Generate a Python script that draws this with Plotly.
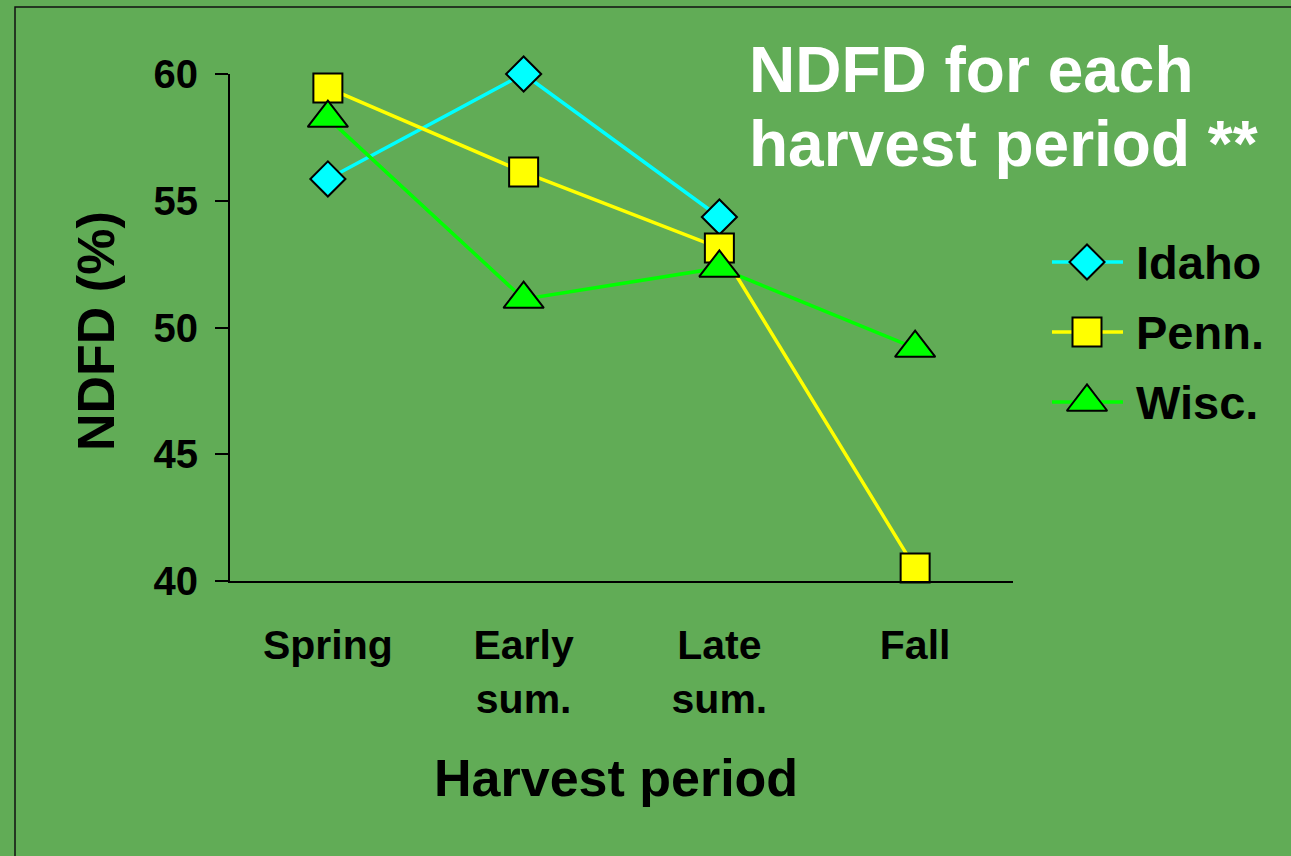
import plotly.graph_objects as go

# --- data ---
periods = ["Spring", "Early<br>sum.", "Late<br>sum.", "Fall"]
states = ["Idaho", "Penn.", "Wisc."]
idaho = [55.86, 60.0, 54.36, None]
penn = [59.45, 56.13, 53.14, 40.51]
wisc = [58.26, 51.12, 52.35, 49.19]
y_ticks = [40, 45, 50, 55, 60]

# --- styling ---
W, H = 1291, 856
BG = "#61ac56"
FONT = "Liberation Sans, Arial, sans-serif"
line_colors = ["#00ffff", "#ffff00", "#00ff00"]
symbols = ["diamond", "square", "triangle-up"]
sizes = [27, 29, 35]


def px(x):
    return x / W


def py(y):
    return 1 - y / H


fig = go.Figure()

for name, vals, col, sym, sz in zip(states, [idaho, penn, wisc], line_colors, symbols, sizes):
    fig.add_trace(go.Scatter(
        x=periods, y=vals, name=name, mode="lines+markers",
        line=dict(color=col, width=3.5),
        marker=dict(symbol=sym, size=sz, color=col, line=dict(color="black", width=2)),
        cliponaxis=False, showlegend=False,
    ))

# legend keys drawn on a full-page pixel-space axis pair
legend_y = [262, 332, 402]
for name, col, sym, sz, ly in zip(states, line_colors, symbols, sizes, legend_y):
    fig.add_trace(go.Scatter(
        x=[1052, 1123], y=[ly, ly], mode="lines", xaxis="x2", yaxis="y2",
        line=dict(color=col, width=3.5), showlegend=False, hoverinfo="skip",
    ))
    fig.add_trace(go.Scatter(
        x=[1087], y=[ly], mode="markers", xaxis="x2", yaxis="y2",
        marker=dict(symbol=sym, size=sz, color=col, line=dict(color="black", width=2)),
        showlegend=False, hoverinfo="skip", cliponaxis=False,
    ))
    fig.add_annotation(
        x=px(1134), y=py(ly), xref="paper", yref="paper", text=f"<b>{name}</b>",
        showarrow=False, xanchor="left", yanchor="middle",
        font=dict(family=FONT, size=47, color="black"),
    )

# title lines
for txt, cy in [("NDFD for each", 70), ("harvest period **", 144)]:
    fig.add_annotation(
        x=px(747), y=py(cy), xref="paper", yref="paper", text=f"<b>{txt}</b>",
        showarrow=False, xanchor="left", yanchor="middle",
        font=dict(family=FONT, size=64, color="white"),
    )

# axis titles
fig.add_annotation(
    x=px(616), y=py(778), xref="paper", yref="paper", text="<b>Harvest period</b>",
    showarrow=False, xanchor="center", yanchor="middle",
    font=dict(family=FONT, size=52, color="black"),
)
fig.add_annotation(
    x=px(96), y=py(331), xref="paper", yref="paper", text="<b>NDFD (%)</b>",
    showarrow=False, textangle=-90, xanchor="center", yanchor="middle",
    font=dict(family=FONT, size=52, color="black"),
)

# frame around the slide area
fig.add_shape(
    type="rect", xref="paper", yref="paper",
    x0=px(15), x1=px(W + 20), y0=py(7), y1=py(H + 20),
    line=dict(color="#111111", width=1.5), fillcolor="rgba(0,0,0,0)",
)

fig.update_layout(
    template="none",
    width=W, height=H,
    margin=dict(l=0, r=0, t=0, b=0, pad=0, autoexpand=False),
    paper_bgcolor=BG, plot_bgcolor="rgba(0,0,0,0)",
    xaxis=dict(
        domain=[px(230), px(1013)], range=[-0.5, 3.5], type="category",
        showline=True, linecolor="black", linewidth=2, ticks="",
        showgrid=False, zeroline=False, ticklabelstandoff=27, automargin=False,
        tickfont=dict(family=FONT, size=41, color="black", weight="bold"),
    ),
    yaxis=dict(
        domain=[py(581), py(74)], range=[40, 60], tickvals=y_ticks,
        showline=True, linecolor="black", linewidth=2,
        ticks="outside", ticklen=13, tickwidth=2, tickcolor="black",
        showgrid=False, zeroline=False, ticklabelstandoff=9, automargin=False,
        tickfont=dict(family=FONT, size=40, color="black", weight="bold"),
    ),
    xaxis2=dict(domain=[0, 1], range=[0, W], anchor="y2", visible=False,
                fixedrange=True, automargin=False),
    yaxis2=dict(domain=[0, 1], range=[H, 0], anchor="x2", visible=False,
                fixedrange=True, automargin=False),
    showlegend=False,
)

fig.write_html("out.html")
